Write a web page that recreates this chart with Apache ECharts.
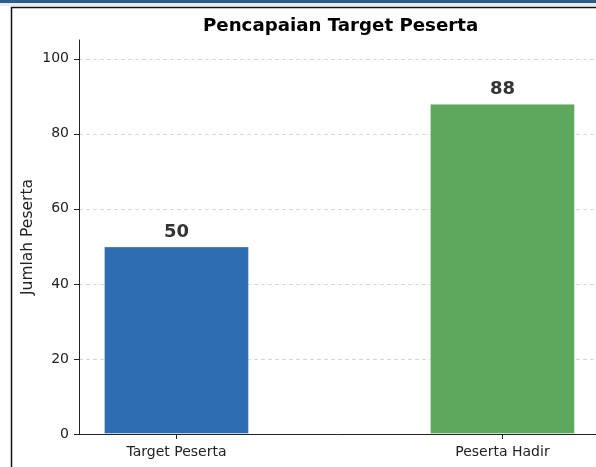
<!DOCTYPE html>
<html>
<head>
<meta charset="utf-8">
<script src="https://cdn.jsdelivr.net/npm/echarts@6/dist/echarts.min.js"></script>
<style>
  html, body { margin: 0; padding: 0; background: #fff; }
  #chart { width: 596px; height: 467px; }
</style>
</head>
<body>
<div id="chart"></div>
<script>
// data
var categories = ['Target Peserta', 'Peserta Hadir'];
var values = [50, 88];
var barColors = ['#2f6db3', '#5ea85e'];
var yTicks = [0, 20, 40, 60, 80, 100];

var myChart = echarts.init(document.getElementById('chart'));

var font = 'DejaVu Sans';
var barData = values.map(function (v, i) {
  return { value: [i, v], itemStyle: { color: barColors[i] } };
});

var opt = {
  animation: false,
  title: {
    text: 'Pencapaian Target Peserta',
    left: 198, top: 12,
    textStyle: { fontFamily: font, fontSize: 18.2, fontWeight: 'bold', color: '#000' }
  },
  grid: { left: 79, top: 40, right: 0, bottom: 33 },
  xAxis: {
    type: 'value',
    min: -0.299, max: 1.287,
    axisLine: { show: true, onZero: false, lineStyle: { color: '#222', width: 1 } },
    axisTick: { show: true, customValues: [0, 1], length: 5, lineStyle: { color: '#222' } },
    axisLabel: {
      customValues: [0, 1],
      fontFamily: font, fontSize: 14, color: '#222', margin: 11,
      formatter: function (v) { return categories[Math.round(v)] || ''; }
    },
    splitLine: { show: false }
  },
  yAxis: {
    type: 'value',
    min: 0, max: 105,
    name: 'Jumlah Peserta',
    nameLocation: 'middle',
    nameGap: 43,
    nameMoveOverlap: false,
    nameTextStyle: { fontFamily: font, fontSize: 15.5, color: '#222' },
    axisLine: { show: true, onZero: false, lineStyle: { color: '#222', width: 1 } },
    axisTick: { show: true, customValues: yTicks, length: 5, lineStyle: { color: '#222' } },
    axisLabel: { customValues: yTicks, fontFamily: font, fontSize: 14, color: '#222', margin: 10 },
    splitLine: { show: true, lineStyle: { color: '#d8d8d8', type: [4, 3], width: 1 } }
  },
  graphic: [
    { type: 'rect', shape: { x: 0, y: 0, width: 596, height: 3 }, style: { fill: '#2d5b8a' }, silent: true },
    { type: 'rect', shape: { x: 0, y: 3, width: 596, height: 3 }, style: { fill: '#e8ecf0' }, silent: true },
    { type: 'polyline', shape: { points: [[11.5, 467], [11.5, 7.5], [596, 7.5]] },
      style: { stroke: '#111', lineWidth: 1.5, fill: null }, silent: true }
  ],
  series: [{
    type: 'bar',
    data: barData,
    barWidth: 145,
    itemStyle: { borderColor: 'rgba(255,255,255,0.35)', borderWidth: 1 },
    label: {
      show: true, position: 'top', distance: 5,
      formatter: function (p) { return p.value[1]; },
      fontFamily: font, fontSize: 18, fontWeight: 'bold', color: '#333'
    }
  }]
};

myChart.setOption(opt);
</script>
</body>
</html>
